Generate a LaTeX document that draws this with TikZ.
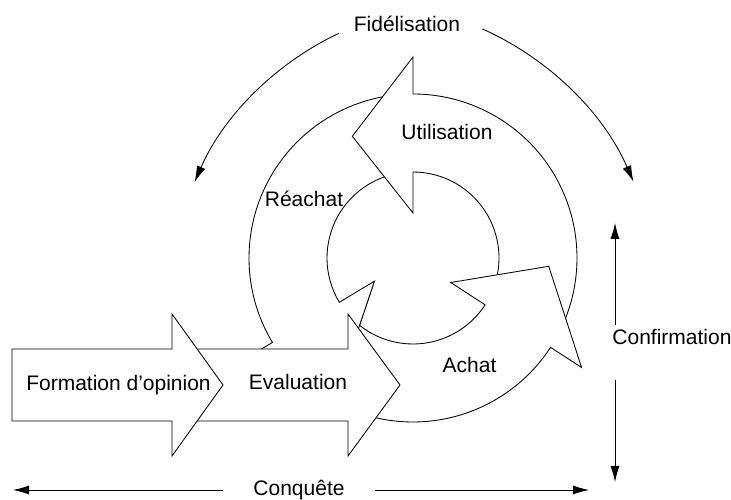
\documentclass[tikz,border=0pt]{standalone}
\usepackage{fontspec}
\setmainfont{Liberation Sans}
\usetikzlibrary{arrows.meta}
\begin{document}
\begin{tikzpicture}[x=1pt,y=1pt,line width=0.85pt,
  blk/.style={draw=black,fill=white,line join=miter},
  lbl/.style={font=\fontsize{21}{25}\selectfont,inner sep=0pt,anchor=base},
  conn/.style={-{Latex[length=16pt,width=9pt]}}]
\useasboundingbox (0,0) rectangle (731,500);

% ---- cycle of curved arrows, centre (413,242)
\begin{scope}[shift={(413,242)}]
  % Reachat (bottom layer)
  \path[blk] (98:86pt) -- (98:164pt) arc[start angle=98,end angle=211,radius=164pt]
    -- (211:201pt) -- (239:136pt) -- (211:45pt) -- (211:86pt)
    arc[start angle=211,end angle=98,radius=86pt] -- cycle;
  % Utilisation
  \path[blk] (-25:86pt) -- (-25:164pt) arc[start angle=-25,end angle=90,radius=164pt]
    -- (90:201pt) -- (116.5:136pt) -- (90:45pt) -- (90:86pt)
    arc[start angle=90,end angle=-25,radius=86pt] -- cycle;
  % Achat
  \path[blk] (222:86pt) -- (222:164pt) arc[start angle=222,end angle=327,radius=164pt]
    -- (327:201pt) -- (356.5:136pt) -- (327:45pt) -- (327:86pt)
    arc[start angle=327,end angle=222,radius=86pt] -- cycle;
  % Reachat head again, over the tail of Achat
  \begin{scope}
    \clip (0,0) -- (215:260pt) arc[start angle=215,end angle=275,radius=260pt] -- cycle;
    \path[blk] (98:86pt) -- (98:164pt) arc[start angle=98,end angle=211,radius=164pt]
      -- (211:201pt) -- (239:136pt) -- (211:45pt) -- (211:86pt)
      arc[start angle=211,end angle=98,radius=86pt] -- cycle;
  \end{scope}
\end{scope}

% ---- straight arrows
\path[blk] (180,151) -- (348,151) -- (348,186) -- (400,115) -- (348,44) -- (348,79) -- (180,79) -- cycle;
\path[blk] (12,151) -- (172,151) -- (172,186) -- (223,115) -- (172,44) -- (172,79) -- (12,79) -- cycle;

% ---- labels
\node[lbl] (fid) at (407,468) {Fidélisation};
\node[lbl] (uti) at (447,360) {Utilisation};
\node[lbl] (rea) at (304,293) {Réachat};
\node[lbl] (ach) at (469.5,127) {Achat};
\node[lbl] (eva) at (298,110) {Evaluation};
\node[lbl] (for) at (118.5,109) {Formation d\char"27 opinion};
\node[lbl] (con) at (672,155) {Confirmation};
\node[lbl] (coq) at (299,4) {Conquête};

% ---- outer arrows
\coordinate (fidL) at (338.9,466.7);
\coordinate (fidR) at (482.3,471.1);
\draw[conn] (fidL) arc[start angle=115.3,end angle=156.4,radius=295pt];
\draw[conn] (fidR) arc[start angle=65.9,end angle=23.5,radius=297pt];

\coordinate (cfA) at (615,175);
\coordinate (cfT) at (615,277);
\coordinate (cfB) at (615,120);
\coordinate (cfD) at (615,18);
\draw[conn] (cfA) -- (cfT);
\draw[conn] (cfB) -- (cfD);

\coordinate (cqA) at (223,10);
\coordinate (cqL) at (13,10);
\coordinate (cqB) at (375,10);
\coordinate (cqR) at (589,10);
\draw[conn] (cqA) -- (cqL);
\draw[conn] (cqB) -- (cqR);
\end{tikzpicture}
\end{document}
